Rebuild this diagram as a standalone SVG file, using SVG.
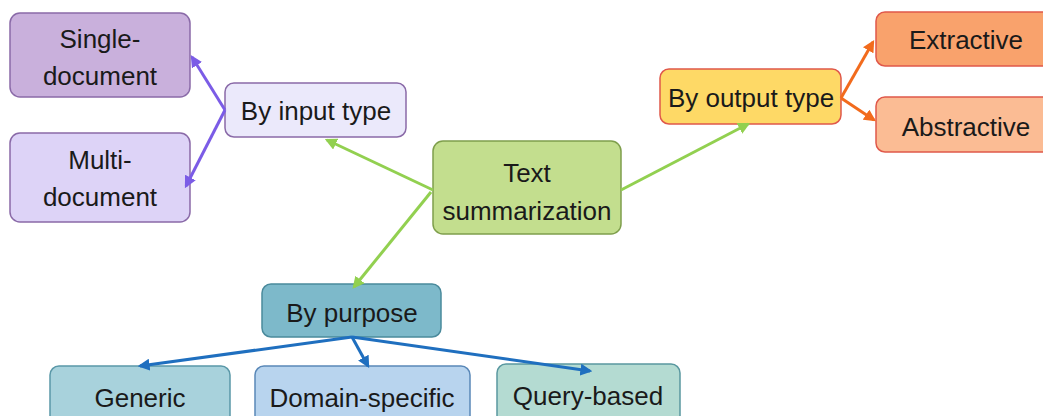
<svg xmlns="http://www.w3.org/2000/svg" width="1043" height="416" viewBox="0 0 1043 416">
<style>
text{font-family:"Liberation Sans",Arial,sans-serif;font-size:26px;fill:#1a1a1a;text-anchor:middle}
.box{stroke-width:1.5}
.c{fill:none;stroke-width:3}
</style>
<defs>
<marker id="ag" viewBox="0 0 10 10" refX="8" refY="5" markerWidth="4" markerHeight="4" orient="auto"><path d="M0,0L10,5L0,10z" fill="#92d050"/></marker>
<marker id="ap" viewBox="0 0 10 10" refX="8" refY="5" markerWidth="4" markerHeight="4" orient="auto"><path d="M0,0L10,5L0,10z" fill="#7b5ce6"/></marker>
<marker id="ao" viewBox="0 0 10 10" refX="8" refY="5" markerWidth="4" markerHeight="4" orient="auto"><path d="M0,0L10,5L0,10z" fill="#f26b1d"/></marker>
<marker id="ab" viewBox="0 0 10 10" refX="8" refY="5" markerWidth="4" markerHeight="4" orient="auto"><path d="M0,0L10,5L0,10z" fill="#1f6fbf"/></marker>
</defs>
<rect width="1043" height="416" fill="#ffffff"/>
<g id="single">
<rect class="box" x="10" y="13" width="180" height="84" rx="10" fill="#c9b0dc" stroke="#8a6aa8"/>
<text x="100" y="48">Single-</text><text x="100" y="85">document</text>
</g>
<g id="multi">
<rect class="box" x="10" y="133" width="180" height="89" rx="10" fill="#ddd3f7" stroke="#8a6aa8"/>
<text x="100" y="169">Multi-</text><text x="100" y="206">document</text>
</g>
<g id="input">
<rect class="box" x="225" y="83" width="181" height="54" rx="9" fill="#ebe9fb" stroke="#8a6aa8"/>
<text x="316" y="120">By input type</text>
</g>
<g id="root">
<rect class="box" x="433" y="141" width="188" height="93" rx="10" fill="#c3de8e" stroke="#7f9f4c"/>
<text x="527" y="182">Text</text><text x="527" y="220">summarization</text>
</g>
<g id="output">
<rect class="box" x="660" y="69" width="181" height="55" rx="9" fill="#fed966" stroke="#e0584a"/>
<text x="751" y="107">By output type</text>
</g>
<g id="extractive">
<rect class="box" x="876" y="12" width="180" height="54" rx="9" fill="#f9a26c" stroke="#e0584a"/>
<text x="966" y="49">Extractive</text>
</g>
<g id="abstractive">
<rect class="box" x="876" y="97" width="180" height="55" rx="9" fill="#fbbc94" stroke="#e0584a"/>
<text x="966" y="136">Abstractive</text>
</g>
<g id="purpose">
<rect class="box" x="262" y="284" width="179" height="53" rx="9" fill="#7db9ca" stroke="#4a8a9c"/>
<text x="352" y="322">By purpose</text>
</g>
<g id="generic">
<rect class="box" x="50" y="366" width="180" height="60" rx="9" fill="#a8d2dc" stroke="#5a98a8"/>
<text x="140" y="407">Generic</text>
</g>
<g id="domain">
<rect class="box" x="255" y="366" width="215" height="60" rx="9" fill="#b8d4ee" stroke="#5a88b8"/>
<text x="362" y="407">Domain-specific</text>
</g>
<g id="query">
<rect class="box" x="497" y="364" width="183" height="62" rx="9" fill="#b4dbd2" stroke="#5a98a0"/>
<text x="588" y="405">Query-based</text>
</g>
<g id="connectors">
<path class="c" stroke="#92d050" d="M433,190L327,140" marker-end="url(#ag)"/>
<path class="c" stroke="#92d050" d="M431,192L354,287" marker-end="url(#ag)"/>
<path class="c" stroke="#92d050" d="M621,190L748,124" marker-end="url(#ag)"/>
<path class="c" stroke="#7b5ce6" d="M225,110L192,57" marker-end="url(#ap)"/>
<path class="c" stroke="#7b5ce6" d="M225,110L186,186" marker-end="url(#ap)"/>
<path class="c" stroke="#f26b1d" d="M841,98L873,42" marker-end="url(#ao)"/>
<path class="c" stroke="#f26b1d" d="M841,98L874,120" marker-end="url(#ao)"/>
<path class="c" stroke="#1f6fbf" d="M352,337L140,366" marker-end="url(#ab)"/>
<path class="c" stroke="#1f6fbf" d="M352,337L368,366" marker-end="url(#ab)"/>
<path class="c" stroke="#1f6fbf" d="M352,337L590,371" marker-end="url(#ab)"/>
</g>
</svg>
